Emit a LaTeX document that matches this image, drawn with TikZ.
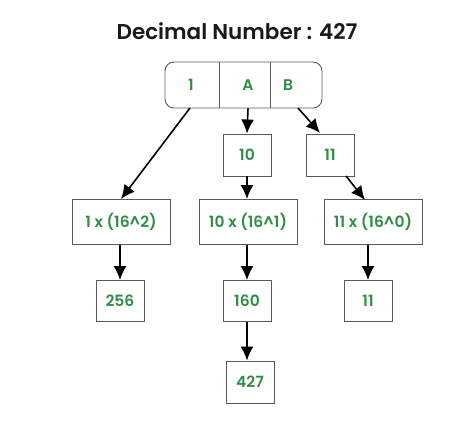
\documentclass[tikz,border=0pt]{standalone}
\usepackage{fontspec}
\setmainfont{Poppins}
\newfontfamily\semifont{Poppins SemiBold}
\usetikzlibrary{arrows.meta, positioning}
\definecolor{ggreen}{RGB}{47,141,70}
\definecolor{boxgray}{RGB}{90,90,90}
\tikzset{
  cell/.style={draw=boxgray, line width=0.9pt, text=ggreen, font=\semifont\fontsize{15.5}{18}\selectfont, inner sep=0pt},
  small/.style={cell, minimum width=48pt, minimum height=42pt},
  wide/.style={cell, minimum width=98pt, minimum height=45pt},
  digit/.style={text=ggreen, font=\semifont\fontsize{15.5}{18}\selectfont},
  arr/.style={-{Latex[length=14pt,width=13pt]}, line width=1.6pt}
}
\begin{document}
\begin{tikzpicture}[x=1pt,y=-1pt]
\useasboundingbox (0,0) rectangle (474,425);
\node[text=black!90, font=\semifont\fontsize{21.5}{24}\selectfont] (title) at (237,31) {Decimal Number : 427};
% hex digits
\node[draw=boxgray, line width=0.9pt, rounded corners=9pt, minimum width=157pt, minimum height=46pt] (hex) at (243.5,85) {};
\draw[boxgray, line width=0.9pt] (219,62) -- (219,108);
\draw[boxgray, line width=0.9pt] (270,62) -- (270,108);
\node[digit] (d1) at (191,85) {1};
\node[digit] (dA) at (248,85) {A};
\node[digit] (dB) at (288,85) {B};
% values
\node[small] (ten) at (247,155) {10};
\node[small] (eleven) at (330,155) {11};
\node[wide] (p2) at (121,222) {1 x (16\textasciicircum 2)};
\node[wide] (p1) at (248,222) {10 x (16\textasciicircum 1)};
\node[wide] (p0) at (373,222) {11 x (16\textasciicircum 0)};
\node[small, minimum height=41pt] (r2) at (120,301) {256};
\node[small, minimum height=41pt] (r1) at (247,301) {160};
\node[small, minimum height=41pt] (r0) at (368,301) {11};
\node[small] (sum) at (250,382) {427};
% arrows
\coordinate (s1) at (190,108);
\coordinate (sB) at (298,108);
\coordinate (eB) at (320,133);
\coordinate (s11) at (346,176);
\coordinate (e11) at (365,200);
\draw[arr] (s1) -- (p2.north);
\draw[arr] (hex.south -| dA) -- (ten.north);
\draw[arr] (sB) -- (eB);
\draw[arr] (ten.south) -- (p1.north -| ten);
\draw[arr] (s11) -- (e11);
\draw[arr] (p2.south -| r2) -- (r2.north);
\draw[arr] (p1.south -| r1) -- (r1.north);
\draw[arr] (p0.south -| r0) -- (r0.north);
\draw[arr] (r1.south) -- (sum.north -| r1);
\end{tikzpicture}
\end{document}
